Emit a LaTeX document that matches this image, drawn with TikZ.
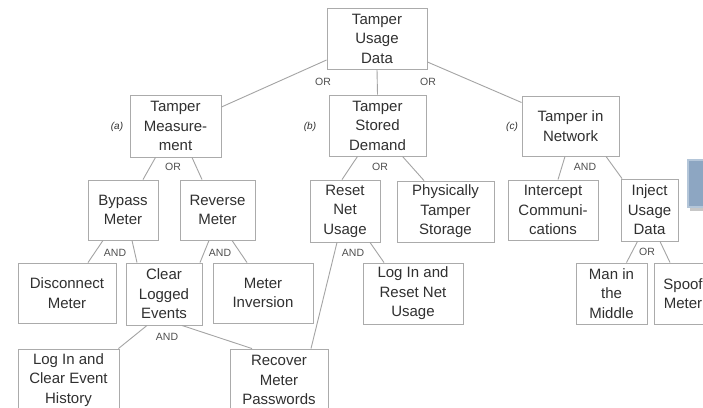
\documentclass[tikz,border=0pt]{standalone}
\usepackage{fontspec}
\setmainfont{Liberation Sans}
\usetikzlibrary{calc}
\definecolor{boxgray}{HTML}{ABABAB}
\definecolor{linegray}{HTML}{A4A4A4}
\definecolor{txtgray}{HTML}{303030}
\definecolor{panelblue}{HTML}{8DA6C2}
\definecolor{panelrim}{HTML}{B4C6D9}
\begin{document}
\begin{tikzpicture}[x=1pt,y=-1pt,
  goal/.style={draw=boxgray, line width=0.9pt, fill=white, align=center,
    text=txtgray, font=\fontsize{15}{19.5}\selectfont, inner sep=0pt},
  link/.style={draw=linegray, line width=0.9pt},
  gate/.style={font=\fontsize{10.5}{12}\selectfont, text=txtgray!85, inner sep=0pt},
  tag/.style={font=\itshape\fontsize{10}{12}\selectfont, text=txtgray, inner sep=0pt}]
\useasboundingbox (0,0) rectangle (703,407);
\clip (0,0) rectangle (703,407);
\fill[white] (0,0) rectangle (703,407);

% side panel at the right edge
\fill[black!22] (690,163) rectangle (730,211);
\node[draw=panelrim, line width=1.4pt, fill=panelblue, minimum width=40pt,
  minimum height=47pt, inner sep=0pt] (panel) at (708,183.5) {};

% goals
\node[goal, minimum width=100pt, minimum height=61pt] (root) at (377,38.5) {Tamper\\Usage\\Data};
\node[goal, minimum width=91pt, minimum height=62pt] (meas) at (175.5,126) {Tamper\\Measure-\\ment};
\node[goal, minimum width=97pt, minimum height=61pt] (stored) at (377.5,125.5) {Tamper\\Stored\\Demand};
\node[goal, minimum width=97pt, minimum height=60pt] (net) at (570.5,126) {Tamper in\\Network};
\node[goal, minimum width=70pt, minimum height=60pt] (bypass) at (123,210) {Bypass\\Meter};
\node[goal, minimum width=75pt, minimum height=60pt] (reverse) at (217.5,210) {Reverse\\Meter};
\node[goal, minimum width=70pt, minimum height=62pt] (reset) at (345,211) {Reset\\Net\\Usage};
\node[goal, minimum width=97pt, minimum height=61pt] (phys) at (445.5,211.5) {Physically\\Tamper\\Storage};
\node[goal, minimum width=90pt, minimum height=60pt] (intercept) at (553,210) {Intercept\\Communi-\\cations};
\node[goal, minimum width=57pt, minimum height=62pt] (inject) at (649.5,210) {Inject\\Usage\\Data};
\node[goal, minimum width=98pt, minimum height=60pt] (disc) at (67,293) {Disconnect\\Meter};
\node[goal, minimum width=76pt, minimum height=62pt] (clear) at (164,294) {Clear\\Logged\\Events};
\node[goal, minimum width=100pt, minimum height=60pt] (inversion) at (263,293) {Meter\\Inversion};
\node[goal, minimum width=100pt, minimum height=61pt] (loginreset) at (413,293.5) {Log In and\\Reset Net\\Usage};
\node[goal, minimum width=71pt, minimum height=61pt] (mitm) at (611.5,293.5) {Man in\\the\\Middle};
\node[goal, minimum width=58pt, minimum height=61pt] (spoof) at (683,293.5) {Spoof\\Meter};
\node[goal, minimum width=101pt, minimum height=62pt] (loginclear) at (68.5,380) {Log In and\\Clear Event\\History};
\node[goal, minimum width=98pt, minimum height=62pt] (recover) at (279,380) {Recover\\Meter\\Passwords};

% branch tags
\node[tag] (taga) at (117,127) {(a)};
\node[tag] (tagb) at (310,127) {(b)};
\node[tag] (tagc) at (512,127) {(c)};

% refinements
\draw[link] ([yshift=-21.5pt]root.west) -- ([yshift=19pt]meas.east);
\draw[link] (root.south) -- (stored.north);
\draw[link] ([yshift=-23.5pt]root.east) -- ([yshift=23.5pt]net.west);
\node[gate] (g1) at (323,82) {OR};
\node[gate] (g2) at (428,82) {OR};

\draw[link] ([xshift=-20pt]meas.south) -- ([xshift=20pt]bypass.north);
\draw[link] ([xshift=16.5pt]meas.south) -- ([xshift=-15.5pt]reverse.north);
\node[gate] (g3) at (173,167) {OR};

\draw[link] ([xshift=-20pt]stored.south) -- ([xshift=-3pt]reset.north);
\draw[link] ([xshift=25pt]stored.south) -- ([xshift=-21.5pt]phys.north);
\node[gate] (g4) at (380,167) {OR};

\draw[link] ([xshift=-5.5pt]net.south) -- ([xshift=5pt]intercept.north);
\draw[link] ([xshift=35.5pt]net.south) -- ([xshift=-27.5pt]inject.north);
\node[gate] (g5) at (585,167) {AND};

\draw[link] ([xshift=-20pt]bypass.south) -- ([xshift=21pt]disc.north);
\draw[link] ([xshift=9pt]bypass.south) -- ([xshift=-27pt]clear.north);
\node[gate] (g6) at (115,253) {AND};

\draw[link] ([xshift=-8.5pt]reverse.south) -- ([xshift=36pt]clear.north);
\draw[link] ([xshift=14.5pt]reverse.south) -- ([xshift=-16pt]inversion.north);
\node[gate] (g7) at (220,253) {AND};

\draw[link] ([xshift=25pt]reset.south) -- ([xshift=-29pt]loginreset.north);
\draw[link] ([xshift=-8pt]reset.south) -- ([xshift=32pt]recover.north);
\node[gate] (g8) at (353,253) {AND};

\draw[link] ([xshift=-12pt]inject.south) -- ([xshift=15pt]mitm.north);
\draw[link] ([xshift=10.5pt]inject.south) -- ([xshift=-13pt]spoof.north);
\node[gate] (g9) at (647,252) {OR};

\draw[link] ([xshift=-17pt]clear.south) -- ([xshift=-1pt]loginclear.north east);
\draw[link] ([xshift=18pt]clear.south) -- ([xshift=-27pt]recover.north);
\node[gate] (g10) at (167,337) {AND};
\end{tikzpicture}
\end{document}
